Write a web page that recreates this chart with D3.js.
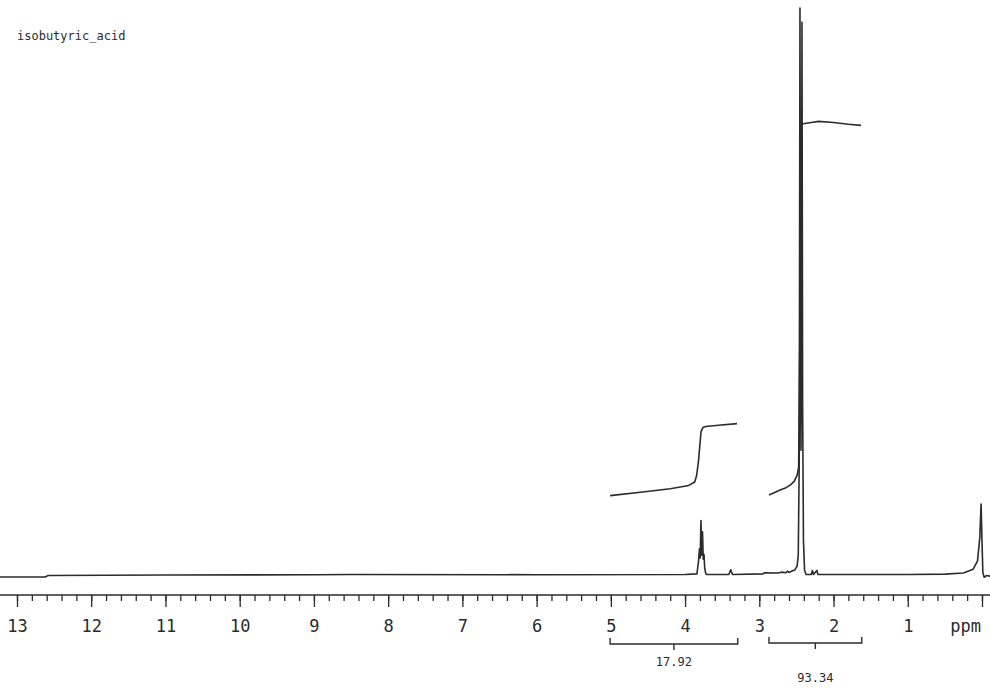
<!DOCTYPE html>
<html>
<head>
<meta charset="utf-8">
<script src="https://cdn.jsdelivr.net/npm/d3@7"></script>
<style>
  html, body { margin: 0; padding: 0; background: #ffffff; }
  svg { display: block; }
</style>
</head>
<body>
<script>
// ---------- DATA ----------
const title = "isobutyric_acid";
const majorTicks = [13, 12, 11, 10, 9, 8, 7, 6, 5, 4, 3, 2, 1, 0];
const tickLabels = ["13", "12", "11", "10", "9", "8", "7", "6", "5", "4", "3", "2", "1", ""];
const unitLabel = "ppm";

// spectrum trace (ppm, relative intensity)
const specPpm = [13.23, 12.62, 12.58, 11.0, 9.0, 8.5, 6.0, 4.0, 3.84, 3.828, 3.818, 3.806, 3.796, 3.786, 3.776, 3.765, 3.755, 3.745, 3.735, 3.722, 3.71,
  3.41, 3.385, 3.36, 2.95, 2.93, 2.75, 2.70, 2.64, 2.62, 2.60, 2.56, 2.52, 2.49, 2.475, 2.462, 2.452, 2.444, 2.438, 2.432, 2.425, 2.416, 2.405, 2.39, 2.37,
  2.30, 2.285, 2.27, 2.225, 2.21, 2.19, 1.0, 0.5, 0.25, 0.12, 0.06, 0.03, 0.012, 0.0, -0.012, -0.03, -0.06, -0.11];
const specInt = [-0.35, -0.35, -0.1, 0.0, 0.05, 0.1, 0.05, 0.1, 0.2, 1.5, 2.5, 4.6, 3.0, 9.6, 3.5, 7.6, 2.8, 3.6, 1.2, 0.3, 0.1,
  0.1, 0.9, 0.1, 0.2, 0.4, 0.35, 0.5, 0.4, 0.7, 0.45, 0.7, 0.9, 1.6, 3.5, 20, 100, 40, 22, 45, 97.5, 30, 6, 0.8, 0.1,
  0.1, 0.8, 0.1, 0.8, 0.1, 0.1, 0.1, 0.15, 0.35, 1.0, 2.5, 6.5, 12.5, 6.0, 0.4, -0.4, -0.1, -0.2];

// integral traces (ppm, relative height)
const integ1Ppm = [5.01, 4.6, 4.2, 3.95, 3.87, 3.845, 3.82, 3.80, 3.785, 3.76, 3.72, 3.55, 3.30];
const integ1Val = [14.0, 14.6, 15.2, 15.8, 16.4, 17.5, 20.0, 23.0, 25.3, 26.0, 26.2, 26.4, 26.7];
const integ2Ppm = [2.87, 2.80, 2.72, 2.64, 2.58, 2.53, 2.49, 2.47, 2.455, 2.445, 2.435, 2.425, 2.41, 2.30, 2.20, 2.0, 1.8, 1.63];
const integ2Val = [14.1, 14.5, 15.0, 15.4, 15.9, 16.5, 17.6, 19.0, 40, 65, 80, 79.4, 79.6, 79.8, 80.0, 79.8, 79.5, 79.3];

// integration regions and values
const regionStart = [5.01, 2.87];
const regionEnd = [3.29, 1.62];
const regionValue = ["17.92", "93.34"];

// ---------- LAYOUT ----------
const W = 990, H = 689;
const ink = "#2b2b2b";
const svg = d3.select("body").append("svg").attr("width", W).attr("height", H);

const x = d3.scaleLinear().domain([13.229, -0.108]).range([0, W]);
const y = d3.scaleLinear().domain([0, 100]).range([575, 8]);

// title
svg.append("text").attr("x", 17).attr("y", 40)
  .attr("font-family", "DejaVu Sans Mono, monospace").attr("font-size", 12)
  .attr("fill", ink).text(title);

const line = d3.line().x(d => x(d[0])).y(d => y(d[1]));

// spectrum
svg.append("path")
  .datum(specPpm.map((p, i) => [p, specInt[i]]))
  .attr("d", line).attr("fill", "none").attr("stroke", ink)
  .attr("stroke-width", 1.6).attr("stroke-linejoin", "round");

// integrals
[[integ1Ppm, integ1Val], [integ2Ppm, integ2Val]].forEach(([pp, vv]) => {
  svg.append("path")
    .datum(pp.map((p, i) => [p, vv[i]]))
    .attr("d", line).attr("fill", "none").attr("stroke", ink)
    .attr("stroke-width", 1.6).attr("stroke-linejoin", "round");
});

// axis
const axisY = 595;
const axis = d3.axisBottom(x)
  .tickValues(d3.range(0, 66).map(i => i * 0.2).filter(v => v <= 13.2))
  .tickSize(6).tickFormat("");
const ag = svg.append("g").attr("transform", `translate(0,${axisY})`).call(axis);
ag.select(".domain").remove();
ag.selectAll(".tick line").attr("stroke", ink).attr("stroke-width", 1.3);
svg.append("line").attr("x1", 0).attr("x2", W).attr("y1", axisY).attr("y2", axisY)
  .attr("stroke", ink).attr("stroke-width", 1.6);

const major = d3.axisBottom(x).tickValues(majorTicks).tickSize(12)
  .tickFormat((d, i) => tickLabels[i]).tickPadding(13);
const mg = svg.append("g").attr("transform", `translate(0,${axisY})`).call(major);
mg.select(".domain").remove();
mg.selectAll(".tick line").attr("stroke", ink).attr("stroke-width", 1.3);
mg.selectAll(".tick text").attr("font-family", "DejaVu Sans Mono, monospace")
  .attr("font-size", 17).attr("fill", ink);

svg.append("text").attr("x", x(0.22)).attr("y", 632).attr("text-anchor", "middle")
  .attr("font-family", "DejaVu Sans Mono, monospace").attr("font-size", 17)
  .attr("fill", ink).text(unitLabel);

// integration brackets
const bracketY = [644, 643];
const labelY = [666, 682];
regionStart.forEach((s, i) => {
  const x0 = x(s), x1 = x(regionEnd[i]), xm = (x0 + x1) / 2, by = bracketY[i];
  svg.append("path")
    .attr("d", `M${x0},${by - 6}V${by}H${x1}V${by - 6}M${xm},${by}V${by + 6}`)
    .attr("fill", "none").attr("stroke", ink).attr("stroke-width", 1.4);
  svg.append("text").attr("x", xm).attr("y", labelY[i]).attr("text-anchor", "middle")
    .attr("font-family", "DejaVu Sans Mono, monospace").attr("font-size", 12)
    .attr("fill", ink).text(regionValue[i]);
});
</script>
</body>
</html>
